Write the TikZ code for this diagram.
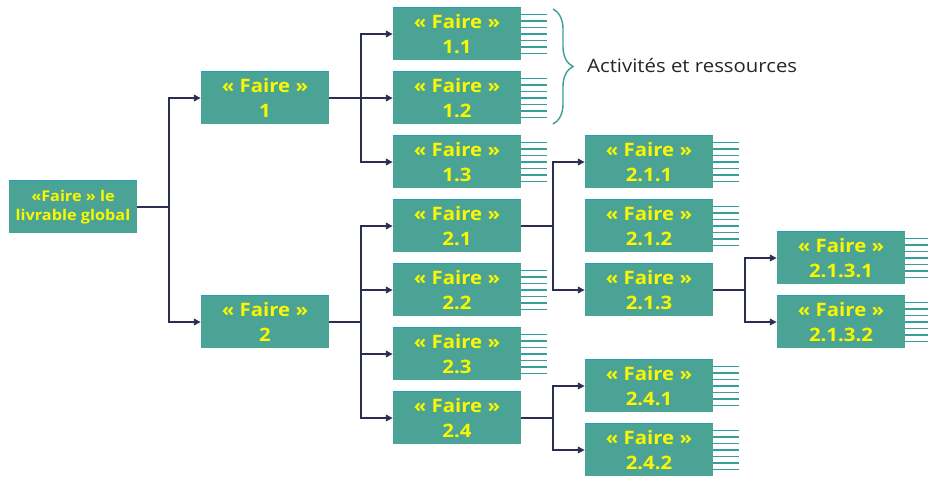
\documentclass[tikz,border=0pt]{standalone}
\usepackage{fontspec}
\setmainfont{Open Sans}
\newfontfamily\widefont[FakeStretch=1.1]{Open Sans}
\usetikzlibrary{arrows.meta,decorations.pathreplacing}

\definecolor{boxfill}{RGB}{75,163,149}
\definecolor{boxtop}{RGB}{40,158,184}
\definecolor{boxtext}{RGB}{248,248,0}
\definecolor{linkcol}{RGB}{43,47,80}
\definecolor{stripecol}{RGB}{52,160,152}
\definecolor{bracecol}{RGB}{60,160,150}

\tikzset{
  wbs/.style={fill=boxfill, text=boxtext, minimum width=128pt, minimum height=52pt,
    inner sep=0pt, align=center, font=\widefont\fontsize{18.5}{25.5}\selectfont\bfseries},
  rootbox/.style={wbs, font=\widefont\fontsize{14.8}{18.5}\selectfont\bfseries},
  link/.style={draw=linkcol, line width=1.9pt},
  linkarrow/.style={link, -{Triangle[length=7pt,width=6.5pt]}},
  stripe/.style={draw=stripecol, line width=1.1pt},
}

% thin top edge on a box
\newcommand{\topedge}[1]{\draw[boxtop, line width=1pt] (#1.north west) -- (#1.north east);}
% seven short lines on the right of a work package
\newcommand{\stripes}[1]{%
  \foreach \k in {-3,...,3}{\draw[stripe] ([yshift=6.5*\k pt]#1.east) -- ++(26pt,0);}}

\begin{document}
\begin{tikzpicture}[x=1pt, y=-1pt]
\useasboundingbox (0,0) rectangle (928,477);

% boxes
\node[rootbox] (root) at (73,207) {«Faire » le\\livrable global};
\node[wbs] (f1) at (265,98) {« Faire »\\1};
\node[wbs] (f2) at (265,322) {« Faire »\\2};
\node[wbs] (f11) at (457,34) {« Faire »\\1.1};
\node[wbs] (f12) at (457,98) {« Faire »\\1.2};
\node[wbs] (f13) at (457,162) {« Faire »\\1.3};
\node[wbs] (f21) at (457,226) {« Faire »\\2.1};
\node[wbs] (f22) at (457,290) {« Faire »\\2.2};
\node[wbs] (f23) at (457,354) {« Faire »\\2.3};
\node[wbs] (f24) at (457,418) {« Faire »\\2.4};
\node[wbs] (f211) at (649,162) {« Faire »\\2.1.1};
\node[wbs] (f212) at (649,226) {« Faire »\\2.1.2};
\node[wbs] (f213) at (649,290) {« Faire »\\2.1.3};
\node[wbs] (f241) at (649,386) {« Faire »\\2.4.1};
\node[wbs] (f242) at (649,450) {« Faire »\\2.4.2};
\node[wbs] (f2131) at (841,258) {« Faire »\\2.1.3.1};
\node[wbs] (f2132) at (841,322) {« Faire »\\2.1.3.2};

\foreach \b in {root,f1,f2,f11,f12,f13,f21,f22,f23,f24,f211,f212,f213,f241,f242,f2131,f2132}{\topedge{\b}}
\foreach \b in {f11,f12,f13,f22,f23,f211,f212,f241,f242,f2131,f2132}{\stripes{\b}}

% branch points
\coordinate (j0) at (169,207);
\coordinate (j1) at (361,98);
\coordinate (j2) at (361,322);
\coordinate (j21) at (553,226);
\coordinate (j24) at (553,418);
\coordinate (j213) at (745,290);

% connectors
\draw[link] (root.east) -- (j0);
\draw[linkarrow] (j0) |- (f1.west);
\draw[linkarrow] (j0) |- (f2.west);

\draw[link] (f1.east) -- (j1);
\draw[linkarrow] (j1) |- (f11.west);
\draw[linkarrow] (j1) -- (f12.west);
\draw[linkarrow] (j1) |- (f13.west);

\draw[link] (f2.east) -- (j2);
\draw[linkarrow] (j2) |- (f21.west);
\draw[linkarrow] (j2) |- (f22.west);
\draw[linkarrow] (j2) |- (f23.west);
\draw[linkarrow] (j2) |- (f24.west);

\draw[link] (f21.east) -- (j21);
\draw[linkarrow] (j21) |- (f211.west);
\draw[linkarrow] (j21) |- (f213.west);

\draw[link] (f24.east) -- (j24);
\draw[linkarrow] (j24) |- (f241.west);
\draw[linkarrow] (j24) |- (f242.west);

\draw[link] (f213.east) -- (j213);
\draw[linkarrow] (j213) |- (f2131.west);
\draw[linkarrow] (j213) |- (f2132.west);

% brace and its label
\coordinate (bt) at (553,9);
\coordinate (bb) at (553,124);
\draw[bracecol, line width=1.4pt, decorate, decoration={brace, amplitude=20pt}] (bt) -- (bb);
\node[anchor=west, inner sep=0pt, font=\widefont\fontsize{18.5}{22}\selectfont, text=black!85] (lbl) at (587,66) {Activités et ressources};
\end{tikzpicture}
\end{document}
